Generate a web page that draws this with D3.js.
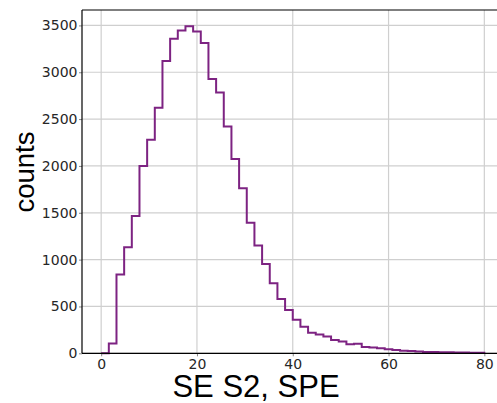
<!DOCTYPE html>
<html>
<head>
<meta charset="utf-8">
<script src="https://cdn.jsdelivr.net/npm/d3@7"></script>
<style>
  body { margin: 0; background: #fff; }
  .tick text { font-family: "DejaVu Sans", sans-serif; font-size: 14px; fill: #262626; }
  .axis-label { font-family: "Liberation Sans", Arial, sans-serif; fill: #000; }
</style>
</head>
<body>
<div id="hist_area"></div>
<script>
// Histogram of SE S2 (SPE), 50 bins of width 1.6 from 0 to 80
var binStart = 0,
    binWidth = 1.6;
var counts = [0, 105, 840, 1132, 1465, 2000, 2280, 2622, 3120, 3358,
              3447, 3490, 3436, 3312, 2927, 2784, 2421, 2073, 1763, 1393,
              1150, 952, 748, 580, 462, 358, 284, 220, 202, 178,
              142, 125, 96, 103, 66, 62, 55, 44, 34, 28,
              24, 18, 15, 13, 12, 10, 9, 8, 7, 6];
var xTicks = [0, 20, 40, 60, 80];
var yTicks = [0, 500, 1000, 1500, 2000, 2500, 3000, 3500];

var margin = {top: 10, left: 82},
    width = 421.5,
    height = 343.3;

var binEdges = counts.map(function(d, i) { return binStart + i * binWidth; });
var binEnd = binStart + counts.length * binWidth;

// Set ranges (matplotlib-like 5% margins on x, 5% headroom on y)
var x = d3.scaleLinear()
          .domain([-4, 84])
          .range([0, width]);
var y = d3.scaleLinear()
          .domain([0, d3.max(counts) * 1.05])
          .range([height, 0]);

var svg = d3.select("#hist_area").append("svg")
    .attr("width", 497)
    .attr("height", 403);

var g = svg.append("g")
    .attr("transform", "translate(" + margin.left + "," + margin.top + ")");

// Grid lines
g.append("g")
    .selectAll("line")
    .data(xTicks)
    .enter().append("line")
    .attr("x1", function(d) { return x(d); })
    .attr("x2", function(d) { return x(d); })
    .attr("y1", 0)
    .attr("y2", height)
    .attr("stroke", "#cfcfcf")
    .attr("stroke-width", 1.2);
g.append("g")
    .selectAll("line")
    .data(yTicks)
    .enter().append("line")
    .attr("x1", 0)
    .attr("x2", width)
    .attr("y1", function(d) { return y(d); })
    .attr("y2", function(d) { return y(d); })
    .attr("stroke", "#cfcfcf")
    .attr("stroke-width", 1.2);

// Step outline of histogram
var pts = [{x: binStart, y: 0}];
counts.forEach(function(c, i) { pts.push({x: binEdges[i], y: c}); });
pts.push({x: binEnd, y: counts[counts.length - 1]});
pts.push({x: binEnd, y: 0});

var line = d3.line()
    .x(function(d) { return x(d.x); })
    .y(function(d) { return y(d.y); })
    .curve(d3.curveStepAfter);

g.append("path")
    .datum(pts)
    .attr("d", line)
    .attr("fill", "none")
    .attr("stroke", "#7d2382")
    .attr("stroke-width", 2)
    .attr("stroke-linejoin", "miter");

// Axes
var xAxis = g.append("g")
    .attr("transform", "translate(0," + height + ")")
    .call(d3.axisBottom(x).tickValues(xTicks).tickFormat(d3.format("d"))
          .tickSize(3).tickPadding(3).tickSizeOuter(0));
var yAxis = g.append("g")
    .call(d3.axisLeft(y).tickValues(yTicks).tickFormat(d3.format("d"))
          .tickSize(3).tickPadding(1.5).tickSizeOuter(0));
[xAxis, yAxis].forEach(function(a) {
  a.select(".domain").remove();
  a.selectAll(".tick line").attr("stroke", "#888");
});

// Spines: left, bottom, top (right falls outside the picture)
g.append("line").attr("x1", 0).attr("x2", 0).attr("y1", 0).attr("y2", height)
    .attr("stroke", "#000").attr("stroke-width", 1.2);
g.append("line").attr("x1", 0).attr("x2", width).attr("y1", height).attr("y2", height)
    .attr("stroke", "#000").attr("stroke-width", 1.2);
g.append("line").attr("x1", 0).attr("x2", width).attr("y1", 0).attr("y2", 0)
    .attr("stroke", "#000").attr("stroke-width", 1.2);

// Axis labels
svg.append("text")
    .attr("class", "axis-label")
    .attr("x", 256)
    .attr("y", 397)
    .attr("text-anchor", "middle")
    .style("font-size", "31px")
    .text("SE S2, SPE");

svg.append("text")
    .attr("class", "axis-label")
    .attr("transform", "translate(34,172) rotate(-90)")
    .attr("text-anchor", "middle")
    .style("font-size", "27.5px")
    .text("counts");
</script>
</body>
</html>
